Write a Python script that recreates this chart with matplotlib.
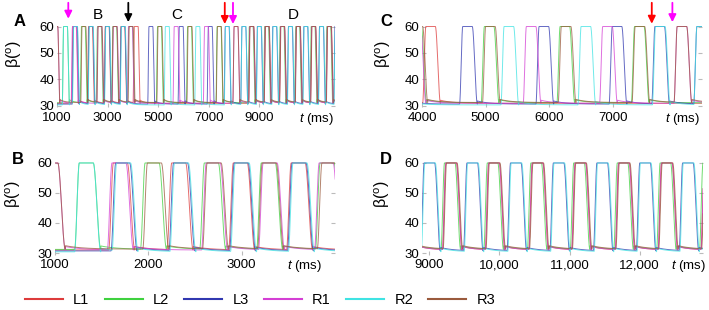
import numpy as np
import matplotlib
matplotlib.use('Agg')
import matplotlib.pyplot as plt
from matplotlib.lines import Line2D

plt.rcParams['font.family'] = 'Liberation Sans'
plt.rcParams['mathtext.fontset'] = 'custom'
plt.rcParams['mathtext.rm'] = 'Liberation Sans'
plt.rcParams['mathtext.it'] = 'Liberation Sans:italic'

# swing onsets (ms), one list per leg
legs = ['L1', 'L2', 'L3', 'R1', 'R2', 'R3']
colors = ['#dd3b3b', '#3fd13f', '#3138b0', '#d43fd4', '#3fe3e3', '#9a5a3c']
base = [31.0, 31.2, 30.7, 31.0, 30.4, 31.3]

L1_on = [1575, 2200, 2860, 3480, 4010, 8580, 9190, 9800, 10420, 11030, 11650, 12260, 12870]
L2_on = [1210, 1915, 2550, 3160, 3790, 4930, 6120, 7290, 8560, 9170, 9780, 10400, 11010,
         11630, 12240, 12850]
L3_on = [1600, 2220, 2870, 3490, 4590, 5790, 6940, 7610, 8270, 8880, 9490, 10110, 10720,
         11340, 11950, 12560]
R1_on = [830, 1560, 2570, 3180, 3780, 5590, 6790, 7960, 8580, 9190, 9800, 10420, 11030,
         11650, 12260, 12870]
R2_on = [1210, 1610, 2230, 2880, 3500, 5240, 6450, 7620, 8270, 8890, 9500, 10120, 10730,
         11350, 11960, 12570]
R3_on = [830, 1940, 2580, 3170, 3810, 4950, 6140, 7300, 7960, 8590, 9200, 9810, 10430,
         11040, 11660, 12270, 12880]
onsets = [L1_on, L2_on, L3_on, R1_on, R2_on, R3_on]

# panel ranges and tick labels
panels = {
    'A': dict(xlim=(1000, 12000), ticks=[1000, 3000, 5000, 7000, 9000],
              labels=['1000', '3000', '5000', '7000', '9000'], tpos=11290, ylx=-0.12),
    'B': dict(xlim=(1000, 4000), ticks=[1000, 2000, 3000],
              labels=['1000', '2000', '3000'], tpos=3670, ylx=-0.115),
    'C': dict(xlim=(4000, 8400), ticks=[4000, 5000, 6000, 7000],
              labels=['4000', '5000', '6000', '7000'], tpos=8100, ylx=-0.105),
    'D': dict(xlim=(8900, 12900), ticks=[9000, 10000, 11000, 12000],
              labels=['9000', '10,000', '11,000', '12,000'], tpos=12690, ylx=-0.105),
}
rects = {
    'A': [0.0804, 0.654, 0.392, 0.269],
    'C': [0.5952, 0.654, 0.3949, 0.269],
    'B': [0.0776, 0.179, 0.3949, 0.305],
    'D': [0.5952, 0.179, 0.3963, 0.305],
}


def smooth(x):
    x = np.clip(x, 0, 1)
    return 3 * x ** 2 - 2 * x ** 3


def trace(t, ons, b):
    s = np.zeros_like(t)
    for t0 in ons:
        tau = t - t0
        core = smooth(tau / 50.0) * (1 - smooth((tau - 200) / 80.0))
        tail = np.where(tau > 280, 0.04 * np.exp(-(tau - 280) / 180.0), 0)
        s = np.maximum(s, np.maximum(core, tail))
    return b + (60 - b) * s


t = np.arange(800, 13100, 2.0)
betas = [trace(t, ons, b) for ons, b in zip(onsets, base)]

fig = plt.figure(figsize=(7.09, 3.10), dpi=100)

for name, r in rects.items():
    ax = fig.add_axes(r)
    p = panels[name]
    for y, c in zip(betas, colors):
        ax.plot(t, y, color=c, lw=0.7, alpha=0.75)
    ax.set_xlim(*p['xlim'])
    ax.set_ylim(29.5, 61)
    ax.set_yticks([30, 40, 50, 60])
    ax.set_xticks(p['ticks'])
    ax.set_xticklabels(p['labels'])
    for s in ax.spines.values():
        s.set_visible(False)
    ax.tick_params(axis='both', direction='in', length=3, width=0.8, color='#bbbbbb',
                   labelsize=9.5, pad=2, right=True)
    ax.tick_params(axis='x', pad=3.5)
    ax.set_ylabel('β($^{\\mathrm{o}}$)', fontsize=11.5)
    ax.yaxis.set_label_coords(p['ylx'], 0.64)
    ax.text(p['tpos'], -0.04, '$t$ (ms)', transform=ax.get_xaxis_transform(),
            ha='center', va='top', fontsize=9.5)
    fig.text(r[0] - 0.053 if name in 'AB' else r[0] - 0.051, 0.932 if name in 'AC' else 0.487,
             name, fontsize=12, fontweight='bold', ha='center', va='center')

    if name == 'A':
        for x, lab in [(2620, 'B'), (5750, 'C'), (10340, 'D')]:
            ax.text(x, 64.4, lab, fontsize=11, ha='center', va='center', clip_on=False)
        for x, tip, c in [(1447, 61.9, '#ff00ff'), (3822, 60.6, 'black'),
                          (7640, 59.9, 'red'), (7965, 59.9, '#ff00ff')]:
            ax.annotate('', xy=(x, tip), xytext=(x, 1.0),
                        textcoords=('data', 'figure fraction'),
                        arrowprops=dict(arrowstyle='-|>', color=c, lw=1.3, mutation_scale=11),
                        annotation_clip=False)
    if name == 'C':
        for x, tip, c in [(7611, 60.0, 'red'), (7935, 60.6, '#ff00ff')]:
            ax.annotate('', xy=(x, tip), xytext=(x, 1.0),
                        textcoords=('data', 'figure fraction'),
                        arrowprops=dict(arrowstyle='-|>', color=c, lw=1.3, mutation_scale=11),
                        annotation_clip=False)

handles = [Line2D([], [], color=c, lw=1.5) for c in colors]
fig.legend(handles, legs, loc='center', bbox_to_anchor=(0.367, 0.032), ncol=6,
           frameon=False, fontsize=10.5, handlelength=2.6, handletextpad=0.7,
           columnspacing=1.05)

fig.savefig('out.png', dpi=100)
